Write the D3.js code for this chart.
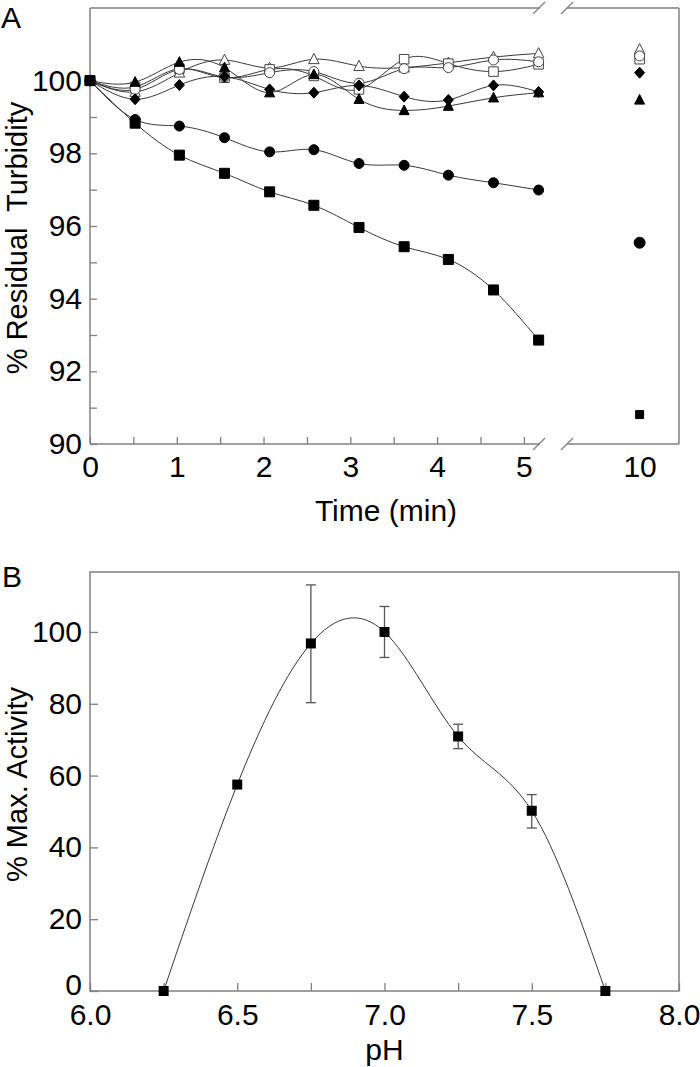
<!DOCTYPE html>
<html><head><meta charset="utf-8">
<script src="https://cdn.jsdelivr.net/npm/d3@7"></script>
<style>
body{margin:0;background:#fff}
svg{display:block}
text{font-family:'Liberation Sans',Arial,Helvetica,sans-serif;fill:#000}
</style>
</head><body>
<svg id="c" width="700" height="1067"></svg>
<script>
// ---------- Panel A data ----------
const timesA = [0, 0.52, 1.03, 1.55, 2.07, 2.58, 3.10, 3.62, 4.13, 4.65, 5.17];
const timeLate = 10;
const filledSquare   = [100.0, 98.83, 97.95, 97.45, 96.94, 96.57, 95.96, 95.43, 95.08, 94.24, 92.86];
const filledCircle   = [100.0, 98.93, 98.75, 98.43, 98.04, 98.10, 97.72, 97.67, 97.40, 97.19, 96.99];
const openTriangle   = [100.0, 99.69, 100.22, 100.57, 100.35, 100.59, 100.40, 100.36, 100.49, 100.65, 100.75];
const openSquare     = [100.0, 99.83, 100.33, 100.08, 100.31, 100.13, 99.76, 100.59, 100.47, 100.25, 100.45];
const openCircle     = [100.0, 99.76, 100.31, 100.10, 100.22, 100.25, 99.93, 100.33, 100.36, 100.57, 100.52];
const filledTriangle = [100.0, 99.96, 100.51, 100.36, 99.67, 100.17, 99.49, 99.18, 99.30, 99.53, 99.67];
const filledDiamond  = [100.0, 99.49, 99.88, 100.11, 99.76, 99.67, 99.87, 99.56, 99.47, 99.87, 99.69];
const lateValues = {filledSquare: 90.81, filledCircle: 95.54, openTriangle: 100.86, openSquare: 100.59,
                    openCircle: 100.68, filledTriangle: 99.47, filledDiamond: 100.22};
const yTicksA = [90, 91, 92, 93, 94, 95, 96, 97, 98, 99, 100];
const xTicksA = [0, 0.5, 1, 1.5, 2, 2.5, 3, 3.5, 4, 4.5, 5];

// ---------- Panel B data ----------
const pH = [6.25, 6.5, 6.75, 7.0, 7.25, 7.5, 7.75];
const activity = [0, 57.5, 96.8, 100, 70.9, 50.2, 0];
const errUpper = [null, null, 113.1, 107.1, 74.3, 54.7, null];
const errLower = [null, null, 80.3, 92.9, 67.5, 45.4, null];
const xTicksB = [6.0, 6.25, 6.5, 6.75, 7.0, 7.25, 7.5, 7.75, 8.0];
const yTicksB = [0, 20, 40, 60, 80, 100];

const FS = 30;
const FT = 29;
const frameColor = '#808080';
const lineColor = '#3a3a3a';
const svg = d3.select('#c');

// ---------- symbol paths ----------
function shapePath(kind, s) {
  const h = s / 2;
  switch (kind) {
    case 'square': return `M${-h},${-h}H${h}V${h}H${-h}Z`;
    case 'circle': return `M${h},0A${h},${h} 0 1,1 ${-h},0A${h},${h} 0 1,1 ${h},0Z`;
    case 'triangle': return `M0,${-s*0.55}L${h},${s*0.42}L${-h},${s*0.42}Z`;
    case 'diamond': return `M0,${-h*1.1}L${h},0L0,${h*1.1}L${-h},0Z`;
  }
}

// ================= PANEL A =================
const xA = d3.scaleLinear().domain([0, 5.18]).range([90, 539.5]);
const xA2 = d3.scaleLinear().domain([9, 10.55]).range([568, 679]);
const yA = d3.scaleLinear().domain([90, 102]).range([444, 8]);

const gA = svg.append('g');

// frame with breaks
const fr = gA.append('g').attr('stroke', frameColor).attr('stroke-width', 1.5).attr('fill', 'none');
const yTop = yA(102), yBot = yA(90);
fr.append('line').attr('x1', 90).attr('x2', 90).attr('y1', yTop).attr('y2', yBot);
fr.append('line').attr('x1', 679).attr('x2', 679).attr('y1', yTop).attr('y2', yBot);
[yTop, yBot].forEach(yy => {
  fr.append('line').attr('x1', 90).attr('x2', 540).attr('y1', yy).attr('y2', yy);
  fr.append('line').attr('x1', 567).attr('x2', 679).attr('y1', yy).attr('y2', yy);
  [539, 567].forEach(bx => {
    fr.append('line').attr('x1', bx - 6).attr('x2', bx + 6).attr('y1', yy + 6).attr('y2', yy - 6).attr('stroke-width', 1.2);
  });
});

// axes
const axYA = gA.append('g').attr('transform', 'translate(90,0)')
  .call(d3.axisLeft(yA).tickValues(yTicksA).tickSize(-7).tickPadding(8)
    .tickFormat(d => d % 2 === 0 ? d : ''));
const axXA = gA.append('g').attr('transform', `translate(0,${yBot})`)
  .call(d3.axisBottom(xA).tickValues(xTicksA).tickSize(-7).tickPadding(12)
    .tickFormat(d => Number.isInteger(d) ? d : ''));
const axXA2 = gA.append('g').attr('transform', `translate(0,${yBot})`)
  .call(d3.axisBottom(xA2).tickValues([timeLate]).tickSize(0).tickPadding(12).tickFormat(d => d));
[axYA, axXA, axXA2].forEach(a => {
  a.select('.domain').remove();
  a.selectAll('line').attr('stroke', frameColor).attr('stroke-width', 1.3);
  a.selectAll('text').attr('font-size', FS).attr('font-family', "'Liberation Sans',Arial,sans-serif").attr('fill', '#000');
});

// series
const seriesA = [
  {key: 'openTriangle', vals: openTriangle, shape: 'triangle', fill: '#fff', size: 10.5},
  {key: 'openSquare', vals: openSquare, shape: 'square', fill: '#fff', size: 9.5},
  {key: 'openCircle', vals: openCircle, shape: 'circle', fill: '#fff', size: 10},
  {key: 'filledDiamond', vals: filledDiamond, shape: 'diamond', fill: '#000', size: 10},
  {key: 'filledTriangle', vals: filledTriangle, shape: 'triangle', fill: '#000', size: 10},
  {key: 'filledCircle', vals: filledCircle, shape: 'circle', fill: '#000', size: 10},
  {key: 'filledSquare', vals: filledSquare, shape: 'square', fill: '#000', size: 10}
];
const lineA = d3.line().x(d => xA(d.t)).y(d => yA(d.v)).curve(d3.curveNatural);
seriesA.forEach(s => {
  s.pts = timesA.map((t, i) => ({t, v: s.vals[i]}));
  gA.append('path').attr('d', lineA(s.pts)).attr('fill', 'none')
    .attr('stroke', lineColor).attr('stroke-width', 1);
});
seriesA.forEach(s => {
  const g = gA.append('g');
  g.selectAll('path').data(s.pts).join('path')
    .attr('d', shapePath(s.shape, s.size))
    .attr('transform', d => `translate(${xA(d.t)},${yA(d.v)})`)
    .attr('fill', s.fill).attr('stroke', s.fill === '#fff' ? '#444' : '#000').attr('stroke-width', 1);
  const lateSize = s.key === 'filledSquare' ? 8 : (s.key === 'filledCircle' ? 11 : s.size);
  g.append('path').attr('d', shapePath(s.shape, lateSize))
    .attr('transform', `translate(${xA2(timeLate)},${yA(lateValues[s.key])})`)
    .attr('fill', s.fill).attr('stroke', s.fill === '#fff' ? '#444' : '#000').attr('stroke-width', 1);
});

// labels
gA.append('text').attr('x', 1).attr('y', 28).attr('font-size', FS).text('A');
gA.append('text').attr('transform', `translate(27,${(yTop + yBot) / 2 + 12}) rotate(-90)`)
  .attr('text-anchor', 'middle').attr('font-size', FT).attr('xml:space', 'preserve').text('% Residual  Turbidity');
gA.append('text').attr('x', 386).attr('y', 521).attr('text-anchor', 'middle').attr('font-size', FS).text('Time (min)');

// ================= PANEL B =================
const xB = d3.scaleLinear().domain([6, 8]).range([90, 679]);
const yB = d3.scaleLinear().domain([0, 116.7]).range([991, 572]);
const gB = svg.append('g');

gB.append('rect').attr('x', 90).attr('y', 572).attr('width', 589).attr('height', 419)
  .attr('fill', 'none').attr('stroke', frameColor).attr('stroke-width', 1.5);

const axYB = gB.append('g').attr('transform', 'translate(90,0)')
  .call(d3.axisLeft(yB).tickValues(yTicksB).tickSize(-8).tickPadding(8));
const axXB = gB.append('g').attr('transform', 'translate(0,991)')
  .call(d3.axisBottom(xB).tickValues(xTicksB).tickSize(-8).tickPadding(13)
    .tickFormat(d => (Math.round(d * 100) % 50 === 0) ? d3.format('.1f')(d) : ''));
[axYB, axXB].forEach(a => {
  a.select('.domain').remove();
  a.selectAll('line').attr('stroke', frameColor).attr('stroke-width', 1.3);
  a.selectAll('text').attr('font-size', FS).attr('font-family', "'Liberation Sans',Arial,sans-serif").attr('fill', '#000');
});
// keep the "0" label of the y axis just clear of the "6.0" label below it
axYB.selectAll('.tick').filter(d => d === 0).select('text').attr('dy', '0.12em');

const ptsB = pH.map((p, i) => ({p, v: activity[i], hi: errUpper[i], lo: errLower[i]}));
gB.append('path').attr('d', d3.line().x(d => xB(d.p)).y(d => yB(d.v)).curve(d3.curveNatural)(ptsB))
  .attr('fill', 'none').attr('stroke', lineColor).attr('stroke-width', 1);

const eb = gB.append('g').attr('stroke', '#555').attr('stroke-width', 1.3);
ptsB.filter(d => d.hi != null).forEach(d => {
  const x = xB(d.p);
  eb.append('line').attr('x1', x).attr('x2', x).attr('y1', yB(d.hi)).attr('y2', yB(d.lo));
  [d.hi, d.lo].forEach(v => eb.append('line').attr('x1', x - 5).attr('x2', x + 5).attr('y1', yB(v)).attr('y2', yB(v)));
});
gB.selectAll('path.mk').data(ptsB).join('path').attr('class', 'mk')
  .attr('d', shapePath('square', 10))
  .attr('transform', d => `translate(${xB(d.p)},${yB(d.v)})`)
  .attr('fill', '#000');

gB.append('text').attr('x', 2).attr('y', 587).attr('font-size', FS).text('B');
gB.append('text').attr('transform', `translate(27,${(572 + 991) / 2 + 3}) rotate(-90)`)
  .attr('text-anchor', 'middle').attr('font-size', FT).text('% Max. Activity');
gB.append('text').attr('x', 384.5).attr('y', 1060).attr('text-anchor', 'middle').attr('font-size', FS).text('pH');
</script>
</body></html>
